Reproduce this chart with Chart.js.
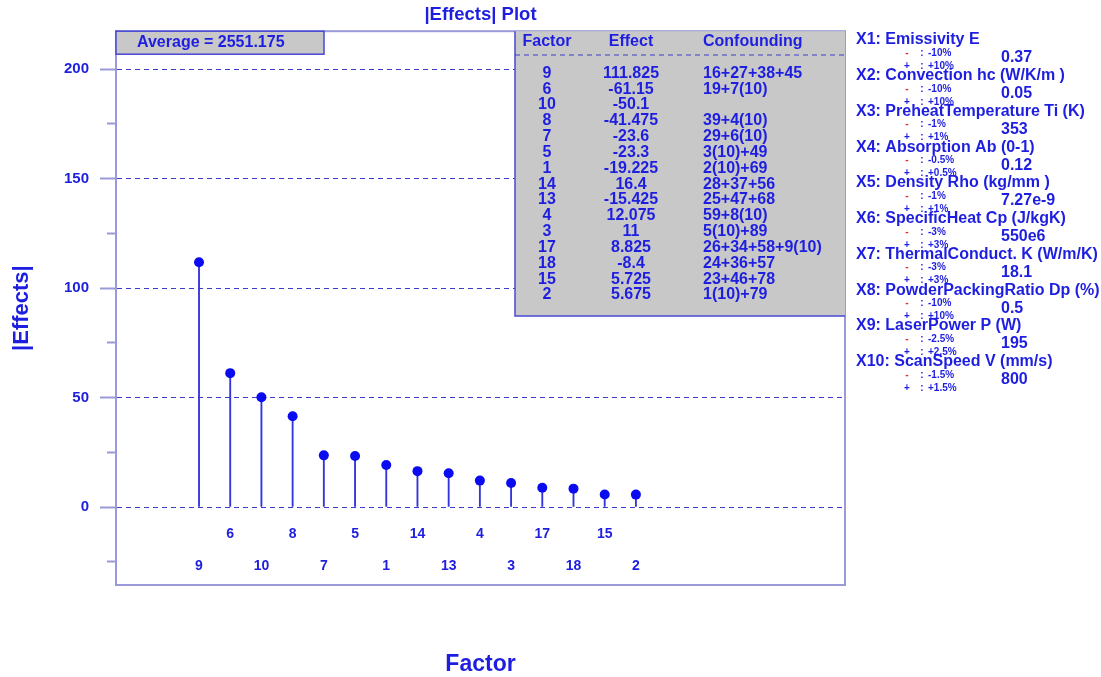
<!DOCTYPE html>
<html>
<head>
<meta charset="utf-8">
<title>|Effects| Plot</title>
<script src="https://cdn.jsdelivr.net/npm/chart.js@4.4.1/dist/chart.umd.min.js"></script>
<style>
    body { margin: 0; background: #fff; }
    #wrap { width: 1101px; height: 677px; }
</style>
</head>
<body>
<div id="wrap"><canvas id="effectsChart" width="1101" height="677"></canvas></div>
<script>
// factors sorted by |effect|
const factorLabels = ['9', '6', '10', '8', '7', '5', '1', '14', '13', '4', '3', '17', '18', '15', '2'];
const effects = [111.825, -61.15, -50.1, -41.475, -23.6, -23.3, -19.225, 16.4, -15.425, 12.075, 11, 8.825, -8.4, 5.725, 5.675];
const confounding = ['16+27+38+45', '19+7(10)', '', '39+4(10)', '29+6(10)', '3(10)+49', '2(10)+69', '28+37+56',
    '25+47+68', '59+8(10)', '5(10)+89', '26+34+58+9(10)', '24+36+57', '23+46+78', '1(10)+79'];
const yTickLabels = [0, 50, 100, 150, 200];
const averageValue = '2551.175';

// factor key on the right
const factorNames = ['X1: Emissivity E', 'X2: Convection hc (W/K/m )', 'X3: PreheatTemperature Ti (K)',
    'X4: Absorption Ab (0-1)', 'X5: Density Rho (kg/mm )', 'X6: SpecificHeat Cp (J/kgK)',
    'X7: ThermalConduct. K (W/m/K)', 'X8: PowderPackingRatio Dp (%)', 'X9: LaserPower P (W)', 'X10: ScanSpeed V (mm/s)'];
const lowLevels = ['-10%', '-10%', '-1%', '-0.5%', '-1%', '-3%', '-3%', '-10%', '-2.5%', '-1.5%'];
const highLevels = ['+10%', '+10%', '+1%', '+0.5%', '+1%', '+3%', '+3%', '+10%', '+2.5%', '+1.5%'];
const nominalValues = ['0.37', '0.05', '353', '0.12', '7.27e-9', '550e6', '18.1', '0.5', '195', '800'];

const BLUE = '#1e1ee0';
const RED = '#e42828';
const FRAME = '#9a9ad8';
const GRAY = '#c8c8c8';
const FONT = 'Liberation Sans, Arial, sans-serif';

const absEffects = effects.map(Math.abs);

function txt(ctx, s, x, y, size, color, align) {
    ctx.font = `bold ${size}px ${FONT}`;
    ctx.fillStyle = color;
    ctx.textAlign = align || 'left';
    ctx.textBaseline = 'middle';
    ctx.fillText(s, x, y);
}

const overlay = {
    id: 'overlay',
    afterDraw(chart) {
        const ctx = chart.ctx;
        const a = chart.chartArea;
        ctx.save();

        // plot frame
        ctx.strokeStyle = FRAME;
        ctx.lineWidth = 2;
        ctx.strokeRect(a.left, a.top, a.right - a.left, a.bottom - a.top);

        // average box
        ctx.fillStyle = GRAY;
        ctx.fillRect(a.left, a.top, 208, 23);
        ctx.strokeStyle = '#4848d4';
        ctx.lineWidth = 1.5;
        ctx.strokeRect(a.left, a.top, 208, 23);
        txt(ctx, 'Average = ' + averageValue, a.left + 21, a.top + 11.5, 16, BLUE);

        // effects table
        const tx = 515, tb = 316;
        ctx.fillStyle = GRAY;
        ctx.fillRect(tx, a.top, a.right - tx, tb - a.top);
        ctx.beginPath();
        ctx.moveTo(tx, a.top);
        ctx.lineTo(tx, tb);
        ctx.lineTo(a.right, tb);
        ctx.stroke();
        txt(ctx, 'Factor', 547, 42, 16, BLUE, 'center');
        txt(ctx, 'Effect', 631, 42, 16, BLUE, 'center');
        txt(ctx, 'Confounding', 703, 42, 16, BLUE);
        ctx.setLineDash([5, 4]);
        ctx.strokeStyle = '#3c3cc8';
        ctx.lineWidth = 1;
        ctx.beginPath();
        ctx.moveTo(tx, 55);
        ctx.lineTo(a.right, 55);
        ctx.stroke();
        ctx.setLineDash([]);
        factorLabels.forEach((f, i) => {
            const y = 73.3 + i * 15.84;
            txt(ctx, f, 547, y, 16, BLUE, 'center');
            txt(ctx, String(effects[i]), 631, y, 16, BLUE, 'center');
            txt(ctx, confounding[i], 703, y, 16, BLUE);
        });

        // factor key
        factorNames.forEach((name, i) => {
            const y = 40 + i * 35.75;
            txt(ctx, name, 856, y, 16, BLUE);
            txt(ctx, '-', 907, y + 13, 10, RED, 'center');
            txt(ctx, ':', 922, y + 13, 10, BLUE, 'center');
            txt(ctx, lowLevels[i], 928, y + 13, 10, BLUE);
            txt(ctx, '+', 907, y + 26, 10, BLUE, 'center');
            txt(ctx, ':', 922, y + 26, 10, BLUE, 'center');
            txt(ctx, highLevels[i], 928, y + 26, 10, BLUE);
            txt(ctx, nominalValues[i], 1001, y + 18, 16, BLUE);
        });

        // x axis title
        txt(ctx, 'Factor', (a.left + a.right) / 2, 665, 23, BLUE, 'center');
        ctx.restore();
    }
};

const ctx = document.getElementById('effectsChart').getContext('2d');
new Chart(ctx, {
    type: 'scatter',
    data: {
        datasets: [{
            type: 'scatter',
            data: absEffects.map((v, i) => ({ x: i, y: v })),
            pointRadius: 5,
            pointHoverRadius: 5,
            pointBackgroundColor: '#0b0bf0',
            pointBorderWidth: 0,
            order: 0
        }, {
            type: 'bar',
            data: absEffects.map((v, i) => ({ x: i, y: v })),
            barThickness: 1.2,
            backgroundColor: '#3434dc',
            order: 1
        }]
    },
    options: {
        responsive: false,
        animation: false,
        devicePixelRatio: 1,
        layout: { padding: { left: 0, right: 256, top: 0, bottom: 92 } },
        plugins: {
            legend: { display: false },
            tooltip: { enabled: false },
            title: {
                display: true,
                fullSize: false,
                text: '|Effects| Plot',
                color: BLUE,
                font: { family: FONT, size: 18.5, weight: 'bold', lineHeight: 1.2 },
                padding: { top: 4, bottom: 5 }
            }
        },
        scales: {
            x: {
                type: 'linear',
                position: { y: 0 },
                min: -2.66,
                max: 20.7,
                offset: false,
                afterBuildTicks: scale => {
                    scale.ticks = factorLabels.map((_, i) => ({ value: i }));
                },
                grid: { display: false, drawTicks: false, offset: false },
                border: { display: false },
                ticks: {
                    autoSkip: false,
                    maxRotation: 0,
                    padding: 11,
                    color: BLUE,
                    font: { family: FONT, size: 14, weight: 'bold', lineHeight: 32 / 14 },
                    callback: (value, i) => (i % 2 === 1 ? [factorLabels[i], ''] : ['', factorLabels[i]])
                }
            },
            y: {
                min: -35.6,
                max: 217.3,
                afterFit: scale => { scale.width = 116; },
                title: {
                    display: true,
                    text: '|Effects|',
                    color: BLUE,
                    font: { family: FONT, size: 22, weight: 'bold', lineHeight: 1.2 },
                    padding: { top: 9, bottom: 0 }
                },
                border: { display: true, color: FRAME, width: 2, dash: [5, 4] },
                grid: {
                    color: c => (c.tick && yTickLabels.includes(c.tick.value) ? '#3c3cc8' : 'rgba(0,0,0,0)'),
                    tickColor: FRAME,
                    tickLength: 16,
                    tickWidth: 2,
                    tickBorderDash: c => (c.tick && yTickLabels.includes(c.tick.value) ? [] : [0, 7, 9, 40])
                },
                ticks: {
                    stepSize: 25,
                    includeBounds: false,
                    padding: 11,
                    color: BLUE,
                    font: { family: FONT, size: 15, weight: 'bold' },
                    callback: v => (yTickLabels.includes(v) ? String(v) : '')
                }
            }
        }
    },
    plugins: [overlay]
});
</script>
</body>
</html>
